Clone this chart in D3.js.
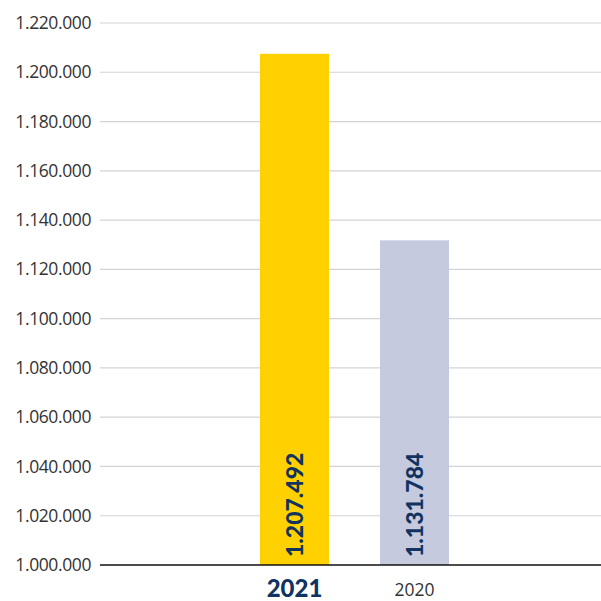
<!DOCTYPE html>
<html>
<head>
<meta charset="utf-8">
<script src="https://cdn.jsdelivr.net/npm/d3@7"></script>
<style>
  body { margin: 0; background: #fff; }
  svg { display: block; font-family: Lato, "Open Sans", sans-serif; }
</style>
</head>
<body>
<div id="chart"></div>
<script>
// data
var years = ["2021", "2020"];
var values = [1207492, 1131784];
var yTicks = [1000000, 1020000, 1040000, 1060000, 1080000, 1100000, 1120000, 1140000, 1160000, 1180000, 1200000, 1220000];

var width = 601, height = 601;
var colors = ["#FFD100", "#C5CADF"];
var navy = "#12335F";

var svg = d3.select("#chart").append("svg")
    .attr("width", width)
    .attr("height", height);

var y = d3.scaleLinear()
    .domain([1000000, 1220000])
    .range([565, 23]);

var x = d3.scaleBand()
    .domain(years)
    .range([234.5, 474.5])
    .paddingInner(0.425)
    .paddingOuter(0.2125);

// dots as thousands separator
var fmt = d3.formatLocale({ decimal: ",", thousands: ".", grouping: [3], currency: ["", ""] }).format(",d");

// gridlines + tick labels
svg.append("g").selectAll("line")
    .data(yTicks.slice(1))
    .enter().append("line")
    .attr("x1", 100).attr("x2", width)
    .attr("y1", function(d) { return y(d); })
    .attr("y2", function(d) { return y(d); })
    .attr("stroke", "#d4d4d4")
    .attr("stroke-width", 1.2);

svg.append("g").selectAll("text")
    .data(yTicks)
    .enter().append("text")
    .attr("x", 91)
    .attr("y", function(d) { return y(d); })
    .attr("dy", "0.35em")
    .attr("text-anchor", "end")
    .attr("fill", "#333")
    .style("font-family", "'Open Sans', sans-serif")
    .style("font-size", "17.5px")
    .style("letter-spacing", "-0.4px")
    .text(function(d) { return fmt(d); });

// bars
svg.append("g").selectAll("rect")
    .data(values)
    .enter().append("rect")
    .attr("x", function(d, i) { return x(years[i]); })
    .attr("width", x.bandwidth())
    .attr("y", function(d) { return y(d); })
    .attr("height", function(d) { return y(1000000) - y(d); })
    .attr("fill", function(d, i) { return colors[i]; });

// baseline
svg.append("line")
    .attr("x1", 100).attr("x2", width)
    .attr("y1", y(1000000)).attr("y2", y(1000000))
    .attr("stroke", "#111")
    .attr("stroke-width", 1.6);

// value labels, rotated inside bars
svg.append("g").selectAll("text")
    .data(values)
    .enter().append("text")
    .attr("transform", function(d, i) {
        return "translate(" + (x(years[i]) + x.bandwidth() / 2) + "," + (y(1000000) - 8) + ") rotate(-90)";
    })
    .attr("dy", "0.36em")
    .attr("fill", navy)
    .style("font-size", "23px")
    .style("font-weight", "900")
    .text(function(d) { return fmt(d); });

// x labels
svg.append("g").selectAll("text")
    .data(years)
    .enter().append("text")
    .attr("x", function(d) { return x(d) + x.bandwidth() / 2; })
    .attr("y", function(d, i) { return i == 0 ? 597 : 596; })
    .attr("text-anchor", "middle")
    .attr("fill", function(d, i) { return i == 0 ? navy : "#333"; })
    .style("font-family", function(d, i) { return i == 0 ? null : "'Open Sans', sans-serif"; })
    .style("font-size", function(d, i) { return i == 0 ? "24px" : "17.5px"; })
    .style("font-weight", function(d, i) { return i == 0 ? "900" : "400"; })
    .text(function(d) { return d; });
</script>
</body>
</html>
